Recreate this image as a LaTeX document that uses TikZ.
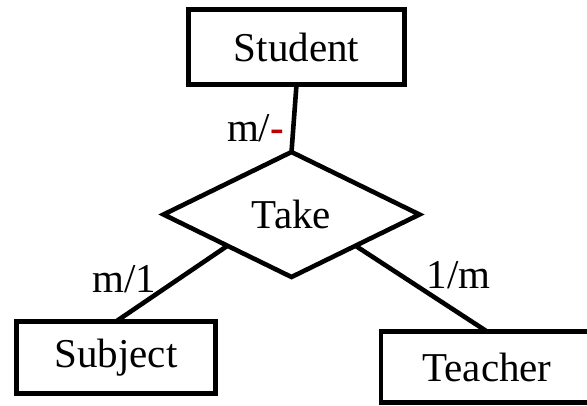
\documentclass[tikz,border=0pt]{standalone}
\usepackage{fontspec}
\setmainfont{Liberation Serif}
\usepackage{tikz}
\usetikzlibrary{shapes.geometric}
\definecolor{cardred}{HTML}{C00000}
\tikzset{
  entity/.style={rectangle,draw=black,line width=4.6pt,inner sep=0pt,outer sep=0pt,
    font=\fontsize{41}{49}\selectfont},
  relation/.style={diamond,aspect=2,draw=black,line width=4.6pt,inner sep=0pt,outer sep=0pt,
    minimum width=256pt,minimum height=125pt,font=\fontsize{41}{49}\selectfont},
  link/.style={line width=4.6pt,draw=black},
  card/.style={inner sep=0pt,font=\fontsize{41}{49}\selectfont}
}

\begin{document}
\begin{tikzpicture}[x=1pt,y=-1pt]
\path[use as bounding box] (0,0) rectangle (587,405);
\node[entity,minimum width=216pt,minimum height=75.5pt] (student) at (296.5,47) {Student};
\node[relation] (take) at (291.5,214.5) {Take};
\node[entity,minimum width=199.5pt,minimum height=72pt] (subject) at (116,357.5) {Subject};
\node[entity,minimum width=212pt,minimum height=71pt] (teacher) at (487,367) {Teacher};
% cardinalities sit beside each link
\draw[link] (student.south) -- node[card,pos=0.85,anchor=base east,xshift=-6pt]
  {m/\textcolor{cardred}{\textbf{-}}} (take.north);
\draw[link] (subject.north) -- node[card,pos=0.38,anchor=base east] {m/1} (take.south west);
\draw[link] (take.south east) -- node[card,pos=0.5,anchor=base west,xshift=3pt] {1/m} (teacher.north);
\end{tikzpicture}
\end{document}
